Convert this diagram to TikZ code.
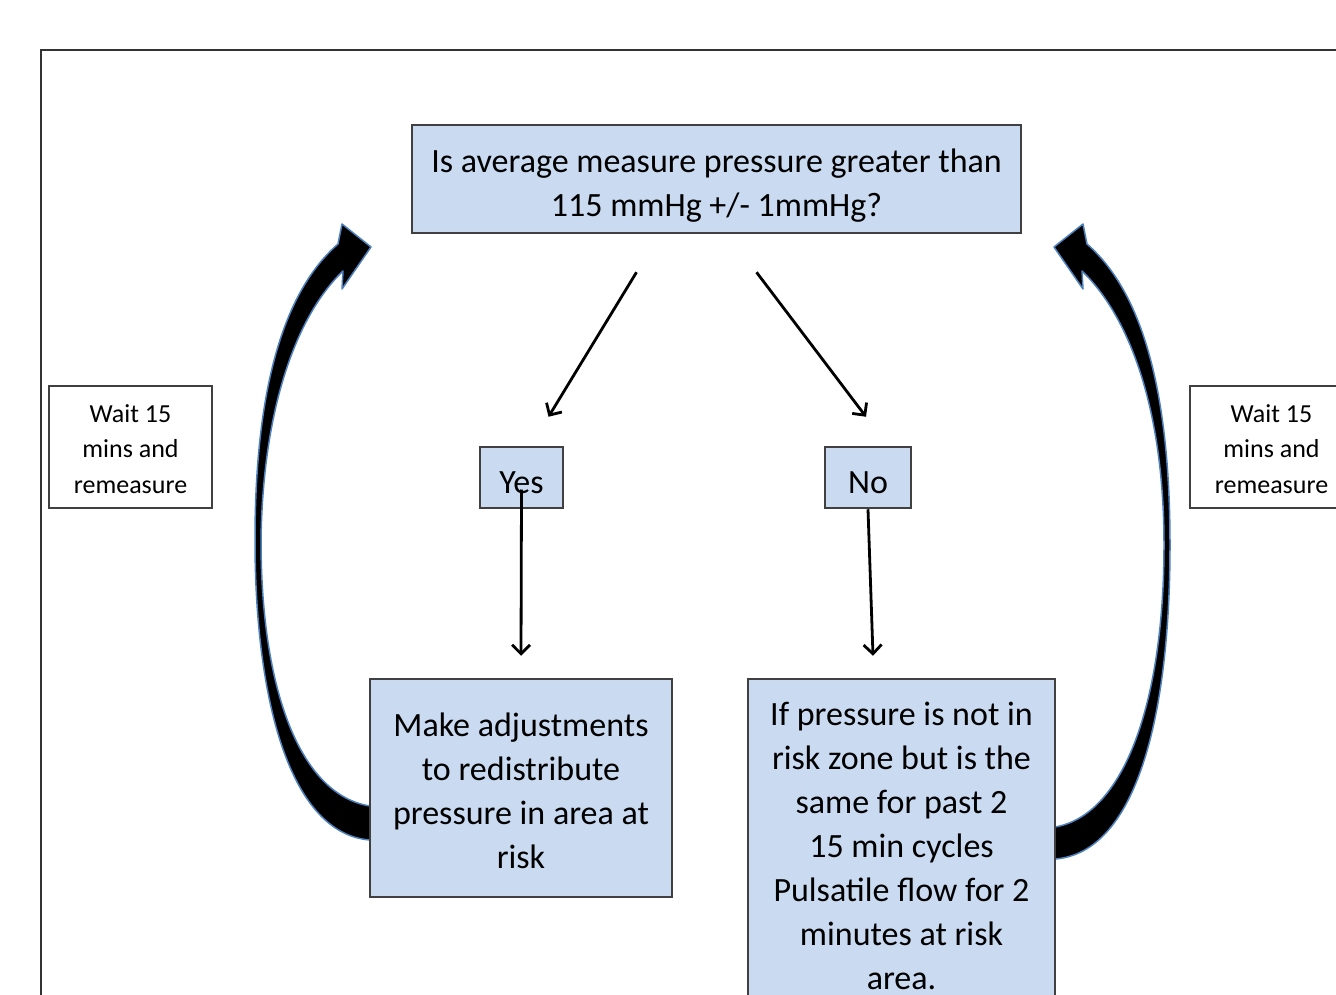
\documentclass[tikz,border=0pt]{standalone}
\usepackage{fontspec}
\setmainfont{Carlito}
\usetikzlibrary{arrows.meta}

\definecolor{boxblue}{RGB}{201,218,241}
\definecolor{glow}{RGB}{79,129,189}

\begin{document}
\begin{tikzpicture}[x=1pt,y=-1pt,
	box/.style={draw=black!75, line width=2.5pt, fill=boxblue, align=center, inner sep=0pt, font=\fontsize{34}{44}\selectfont},
	waitbox/.style={draw=black!75, line width=2.5pt, fill=white, align=center, inner sep=0pt, minimum width=163pt, minimum height=122pt, font=\fontsize{26}{35.5}\selectfont},
	conn/.style={line width=2.8pt, -{Straight Barb[length=9pt,width=18pt]}},
	bigarrow/.style={fill=black, draw=glow, line width=1.5pt, line join=round}]
		\clip (0,0) rectangle (1336,995);
		% Draw outer frame
		\draw[black!80, line width=2.5pt] (41,50) rectangle (1420,1100);

		% Draw the two curved return arrows
		\draw[bigarrow] (370,840) .. controls (290,834) and (255,700) .. (255,540)
			.. controls (255,390) and (283,292) .. (338,244) -- (342,224) -- (371,247) -- (342,289) -- (343,271)
			.. controls (300,312) and (263,400) .. (261,540)
			.. controls (261,690) and (300,795) .. (370,806) -- cycle;
		\draw[bigarrow] (1055,859) .. controls (1135,853) and (1170,720) .. (1170,545)
			.. controls (1170,390) and (1142,292) .. (1087,244) -- (1083,224) -- (1054,247) -- (1083,289) -- (1082,271)
			.. controls (1125,312) and (1164,400) .. (1164,545)
			.. controls (1164,700) and (1125,815) .. (1055,827) -- cycle;

		\node[box, minimum width=609pt, minimum height=108pt] (q) at (716.5,179) {\rule{0pt}{37pt}Is average measure pressure greater than\\115 mmHg +/- 1mmHg?};
		\node[box, minimum width=83pt, minimum height=61pt] (yes) at (521.5,477.5) {\rule{0pt}{32pt}Yes};
		\node[box, minimum width=86pt, minimum height=61pt] (no) at (868,477.5) {\rule{0pt}{32pt}No};
		\node[box, minimum width=302pt, minimum height=218pt] (adjust) at (521,788) {\rule{0pt}{30pt}Make adjustments\\to redistribute\\pressure in area at\\risk};
		\node[box, minimum width=307pt, minimum height=334pt] (pulse) at (901.5,846) {If pressure is not in\\risk zone but is the\\same for past 2\\15 min cycles\\Pulsatile flow for 2\\minutes at risk\\area.};
		\node[waitbox] (waitL) at (130.5,447) {\rule{0pt}{22pt}Wait 15\\mins and\\remeasure};
		\node[waitbox] (waitR) at (1271.5,447) {\rule{0pt}{22pt}Wait 15\\mins and\\remeasure};

		\draw[conn] ([shift={(-80pt,-38pt)}]q.south) -- ([shift={(27pt,29pt)}]yes.north);
		\draw[conn] ([shift={(40pt,-38pt)}]q.south) -- ([shift={(-2pt,29pt)}]no.north);
		\draw[conn] ([yshift=-12pt]yes.center) -- ([yshift=22pt]adjust.north);
		\draw[conn] (no.south) -- ([shift={(-28.5pt,22pt)}]pulse.north);
	\end{tikzpicture}
\end{document}
